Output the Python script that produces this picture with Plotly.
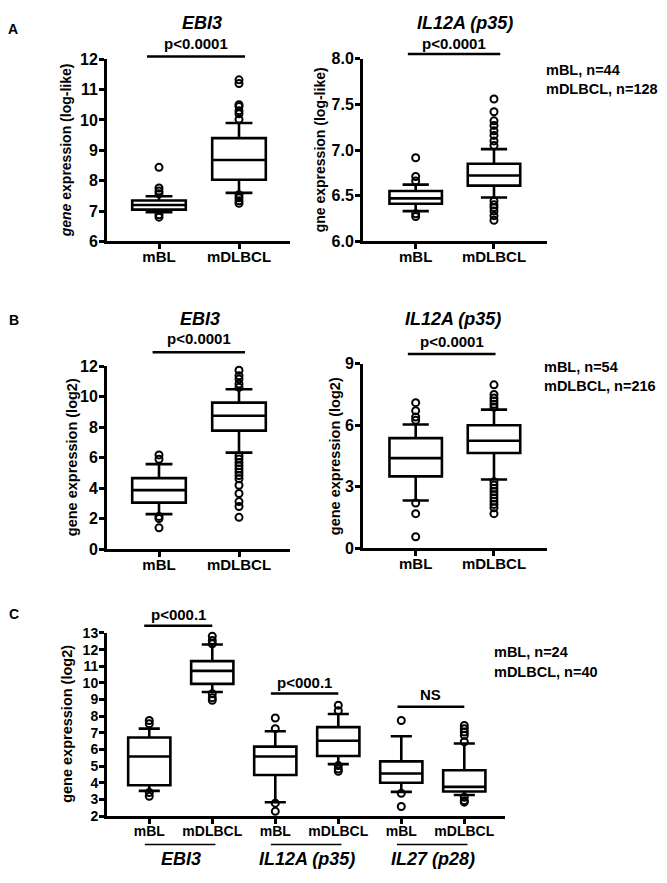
import plotly.graph_objects as go

# ---------------- data ----------------
cats = ["mBL", "mDLBCL"]
pos2 = [0, 1]

# Panel A - EBI3 (log-like)
a_ebi3_lower = [6.96, 7.60]
a_ebi3_q1 = [7.05, 8.03]
a_ebi3_median = [7.20, 8.68]
a_ebi3_q3 = [7.35, 9.40]
a_ebi3_upper = [7.49, 9.90]
a_ebi3_out_mbl = [8.44, 7.76, 7.66, 7.57, 6.88, 6.80]
a_ebi3_out_mdlbcl = [11.32, 11.20, 10.50, 10.44, 10.30, 10.20, 10.02, 7.54, 7.44, 7.34, 7.26]

# Panel A - IL12A (p35) (log-like)
a_il12a_lower = [6.33, 6.48]
a_il12a_q1 = [6.41, 6.61]
a_il12a_median = [6.47, 6.72]
a_il12a_q3 = [6.55, 6.85]
a_il12a_upper = [6.62, 7.01]
a_il12a_out_mbl = [6.915, 6.71, 6.66, 6.30, 6.27]
a_il12a_out_mdlbcl = [7.56, 7.42, 7.32, 7.27, 7.21, 7.16, 7.10, 7.05,
                      6.44, 6.40, 6.37, 6.33, 6.28, 6.23]

# Panel B - EBI3 (log2)
b_ebi3_lower = [2.29, 6.32]
b_ebi3_q1 = [3.04, 7.76]
b_ebi3_median = [3.86, 8.74]
b_ebi3_q3 = [4.65, 9.60]
b_ebi3_upper = [5.57, 10.48]
b_ebi3_out_mbl = [6.17, 5.89, 2.14, 2.00, 1.39]
b_ebi3_out_mdlbcl = [11.72, 11.36, 11.14, 10.82, 10.60, 6.10, 5.90, 5.68, 5.46, 5.25,
                     5.04, 4.82, 4.61, 4.18, 3.64, 3.11, 2.79, 2.08]

# Panel B - IL12A (p35) (log2)
b_il12a_lower = [2.32, 3.35]
b_il12a_q1 = [3.50, 4.64]
b_il12a_median = [4.39, 5.24]
b_il12a_q3 = [5.37, 6.00]
b_il12a_upper = [6.03, 6.76]
b_il12a_out_mbl = [7.10, 6.71, 6.40, 6.24, 2.20, 1.68, 0.55]
b_il12a_out_mdlbcl = [7.97, 7.50, 7.33, 7.18, 7.02, 6.87, 3.24, 3.08, 2.92, 2.76,
                      2.60, 2.45, 2.29, 2.13, 1.97, 1.68]

# Panel C - three genes (log2)
c_pos = [0, 1, 2, 3, 4, 5]
c_ticktext = ["mBL", "mDLBCL", "mBL", "mDLBCL", "mBL", "mDLBCL"]
c_genes = ["EBI3", "IL12A (p35)", "IL27 (p28)"]
c_lower = [3.51, 9.45, 2.83, 5.12, 3.45, 3.26]
c_q1 = [3.85, 9.94, 4.46, 5.61, 4.00, 3.47]
c_median = [5.58, 10.72, 5.58, 6.52, 4.55, 3.75]
c_q3 = [6.72, 11.31, 6.17, 7.34, 5.28, 4.75]
c_upper = [7.25, 12.31, 7.09, 8.13, 6.79, 6.36]
c_out_ebi3_mbl = [7.74, 7.54, 3.41, 3.18]
c_out_ebi3_mdlbcl = [12.80, 12.55, 12.35, 9.35, 9.11, 8.95]
c_out_il12a_mbl = [7.89, 7.25, 2.77, 2.28]
c_out_il12a_mdlbcl = [8.66, 8.33, 5.03, 4.83, 4.69]
c_out_il27_mbl = [7.74, 3.36, 2.57]
c_out_il27_mdlbcl = [7.44, 7.25, 7.05, 6.85, 6.46, 3.12, 2.92, 2.83]

# ---------------- layout geometry ----------------
PAGE_W, PAGE_H, BODY_MARGIN = 667, 883, 8
W, H = PAGE_W - 2 * BODY_MARGIN, PAGE_H - 2 * BODY_MARGIN
FONT = "Liberation Sans, Arial, sans-serif"


def px_x(v):
    return (v - BODY_MARGIN) / W


def px_y(v):
    return 1 - (v - BODY_MARGIN) / H


panels = {
    1: dict(xdom=[px_x(107), px_x(290)], ydom=[px_y(238), px_y(52)],
            xrange=[-0.65, 1.6375], yrange=[6, 12], dtick=1, fmt=None, xs=15, ys=16),
    2: dict(xdom=[px_x(363), px_x(547)], ydom=[px_y(237.7), px_y(51.7)],
            xrange=[-0.673, 1.677], yrange=[6, 8], dtick=0.5, fmt=".1f", xs=15, ys=16),
    3: dict(xdom=[px_x(107), px_x(290)], ydom=[px_y(551.7), px_y(365)],
            xrange=[-0.65, 1.6375], yrange=[0, 12], dtick=2, fmt=None, xs=15, ys=16),
    4: dict(xdom=[px_x(363), px_x(547)], ydom=[px_y(550.7), px_y(362.7)],
            xrange=[-0.673, 1.677], yrange=[0, 9], dtick=3, fmt=None, xs=15, ys=16),
    5: dict(xdom=[px_x(107), px_x(505)], ydom=[px_y(824), px_y(637.3)],
            xrange=[-0.671, 5.646], yrange=[2, 13], dtick=1, fmt=None, xs=14, ys=14),
}

fig = go.Figure()


def refs(i):
    return ("x" if i == 1 else f"x{i}"), ("y" if i == 1 else f"y{i}")


def add_boxes(i, positions, lower, q1, med, q3, upper, outs):
    xa, ya = refs(i)
    fig.add_trace(go.Box(
        x=positions, q1=q1, median=med, q3=q3, lowerfence=lower, upperfence=upper,
        width=0.67, whiskerwidth=0.5, fillcolor="white", boxpoints=False,
        line=dict(color="black", width=2.6), xaxis=xa, yaxis=ya,
        showlegend=False, hoverinfo="skip"))
    for p, o in zip(positions, outs):
        fig.add_trace(go.Scatter(
            x=[p] * len(o), y=o, mode="markers", xaxis=xa, yaxis=ya,
            marker=dict(symbol="circle-open", size=7, color="black",
                        line=dict(width=2, color="black")),
            showlegend=False, hoverinfo="skip", cliponaxis=False))


add_boxes(1, pos2, a_ebi3_lower, a_ebi3_q1, a_ebi3_median, a_ebi3_q3, a_ebi3_upper,
          [a_ebi3_out_mbl, a_ebi3_out_mdlbcl])
add_boxes(2, pos2, a_il12a_lower, a_il12a_q1, a_il12a_median, a_il12a_q3, a_il12a_upper,
          [a_il12a_out_mbl, a_il12a_out_mdlbcl])
add_boxes(3, pos2, b_ebi3_lower, b_ebi3_q1, b_ebi3_median, b_ebi3_q3, b_ebi3_upper,
          [b_ebi3_out_mbl, b_ebi3_out_mdlbcl])
add_boxes(4, pos2, b_il12a_lower, b_il12a_q1, b_il12a_median, b_il12a_q3, b_il12a_upper,
          [b_il12a_out_mbl, b_il12a_out_mdlbcl])
add_boxes(5, c_pos, c_lower, c_q1, c_median, c_q3, c_upper,
          [c_out_ebi3_mbl, c_out_ebi3_mdlbcl, c_out_il12a_mbl, c_out_il12a_mdlbcl,
           c_out_il27_mbl, c_out_il27_mdlbcl])

layout_axes = {}
for i, p in panels.items():
    xk = "xaxis" if i == 1 else f"xaxis{i}"
    yk = "yaxis" if i == 1 else f"yaxis{i}"
    xa, ya = refs(i)
    common = dict(showline=True, linewidth=3, linecolor="black", ticks="outside",
                  ticklen=5, tickwidth=2.5, tickcolor="black", showgrid=False,
                  zeroline=False, fixedrange=True)
    if i == 5:
        tv, tt = c_pos, c_ticktext
    else:
        tv, tt = pos2, cats
    layout_axes[xk] = dict(domain=p["xdom"], range=p["xrange"], anchor=ya,
                           tickmode="array", tickvals=tv, ticktext=tt,
                           ticklabelstandoff=-5,
                           tickfont=dict(family=FONT, size=p["xs"], color="black",
                                         weight="bold"),
                           **common)
    yax = dict(domain=p["ydom"], range=p["yrange"], anchor=xa, dtick=p["dtick"],
               tick0=p["yrange"][0], ticklabelstandoff=-2,
               tickfont=dict(family=FONT, size=p["ys"], color="black", weight="bold"),
               **common)
    if p["fmt"]:
        yax["tickformat"] = p["fmt"]
    layout_axes[yk] = yax

fig.update_layout(**layout_axes)


def xd(i, pos):
    r = panels[i]["xrange"]
    return (pos - r[0]) / (r[1] - r[0])


shapes = []
annotations = []


def bracket(i, a, b, ydom, text, ytext, size=15):
    xa, ya = refs(i)
    shapes.append(dict(type="line", xref=f"{xa} domain", yref=f"{ya} domain",
                       x0=xd(i, a), x1=xd(i, b), y0=ydom, y1=ydom,
                       line=dict(color="black", width=2.5)))
    annotations.append(dict(text=f"<b>{text}</b>", xref=f"{xa} domain", yref=f"{ya} domain",
                            x=(xd(i, a) + xd(i, b)) / 2, y=ytext, showarrow=False,
                            xanchor="center", yanchor="middle",
                            font=dict(family=FONT, size=size, color="black")))


bracket(1, -0.15, 1.075, 1.0145, "p&lt;0.0001", 1.086)
bracket(2, -0.10, 1.08, 1.027, "p&lt;0.0001", 1.086)
bracket(3, -0.08, 1.075, 1.075, "p&lt;0.0001", 1.152)
bracket(4, -0.10, 1.02, 1.053, "p&lt;0.0001", 1.121)
bracket(5, -0.08, 1.0, 1.039, "p&lt;000.1", 1.103)
bracket(5, 1.93, 3.0, 0.6695, "p&lt;000.1", 0.728)
bracket(5, 3.94, 5.0, 0.5965, "NS", 0.664)

# group underlines and gene labels for panel C
for k, g in enumerate(c_genes):
    a, b = c_pos[2 * k], c_pos[2 * k + 1]
    shapes.append(dict(type="line", xref="x5 domain", yref="y5 domain",
                       x0=xd(5, a - 0.07), x1=xd(5, b + 0.05), y0=-0.156, y1=-0.156,
                       line=dict(color="black", width=1.5)))
    annotations.append(dict(text=f"<b><i>{g}</i></b>", xref="x5 domain", yref="y5 domain",
                            x=xd(5, (a + b) / 2), y=-0.236, showarrow=False,
                            xanchor="center", yanchor="middle",
                            font=dict(family=FONT, size=18, color="black")))


def txt(text, x, y, size=15, xanchor="center", angle=0):
    annotations.append(dict(text=text, xref="paper", yref="paper", x=px_x(x), y=px_y(y),
                            showarrow=False, xanchor=xanchor, yanchor="middle",
                            textangle=angle, font=dict(family=FONT, size=size, color="black")))


# panel letters
txt("<b>A</b>", 13, 21, 14)
txt("<b>B</b>", 14, 318, 14)
txt("<b>C</b>", 14, 618, 14)
# titles
txt("<b><i>EBI3</i></b>", 202, 15, 18)
txt("<b><i>IL12A (p35)</i></b>", 465, 15, 18)
txt("<b><i>EBI3</i></b>", 200, 317, 18)
txt("<b><i>IL12A (p35)</i></b>", 453, 317, 18)
# y-axis titles
txt("<b><i>gene</i> expression (log-like)</b>", 66, 145, 14, angle=-90)
txt("<b>gne expression (log-like)</b>", 320, 145, 14, angle=-90)
txt("<b>gene expression (log2)</b>", 72, 458, 14.5, angle=-90)
txt("<b>gene expression (log2)</b>", 335, 457, 14.5, angle=-90)
txt("<b>gene expression (log2)</b>", 67, 730, 14.5, angle=-90)
# sample sizes
txt("<b>mBL, n=44</b>", 544, 63, 14.5, xanchor="left")
txt("<b>mDLBCL, n=128</b>", 544, 82, 14.5, xanchor="left")
txt("<b>mBL, n=54</b>", 542, 366, 14.5, xanchor="left")
txt("<b>mDLBCL, n=216</b>", 542, 385, 14.5, xanchor="left")
txt("<b>mBL, n=24</b>", 492, 657, 14.5, xanchor="left")
txt("<b>mDLBCL, n=40</b>", 492, 677, 14.5, xanchor="left")

fig.update_layout(
    width=W, height=H, autosize=False,
    margin=dict(l=0, r=0, t=0, b=0),
    paper_bgcolor="white", plot_bgcolor="white",
    font=dict(family=FONT, color="black"),
    shapes=shapes, annotations=annotations, showlegend=False,
)

fig.write_html("out.html", config={"displayModeBar": False})
